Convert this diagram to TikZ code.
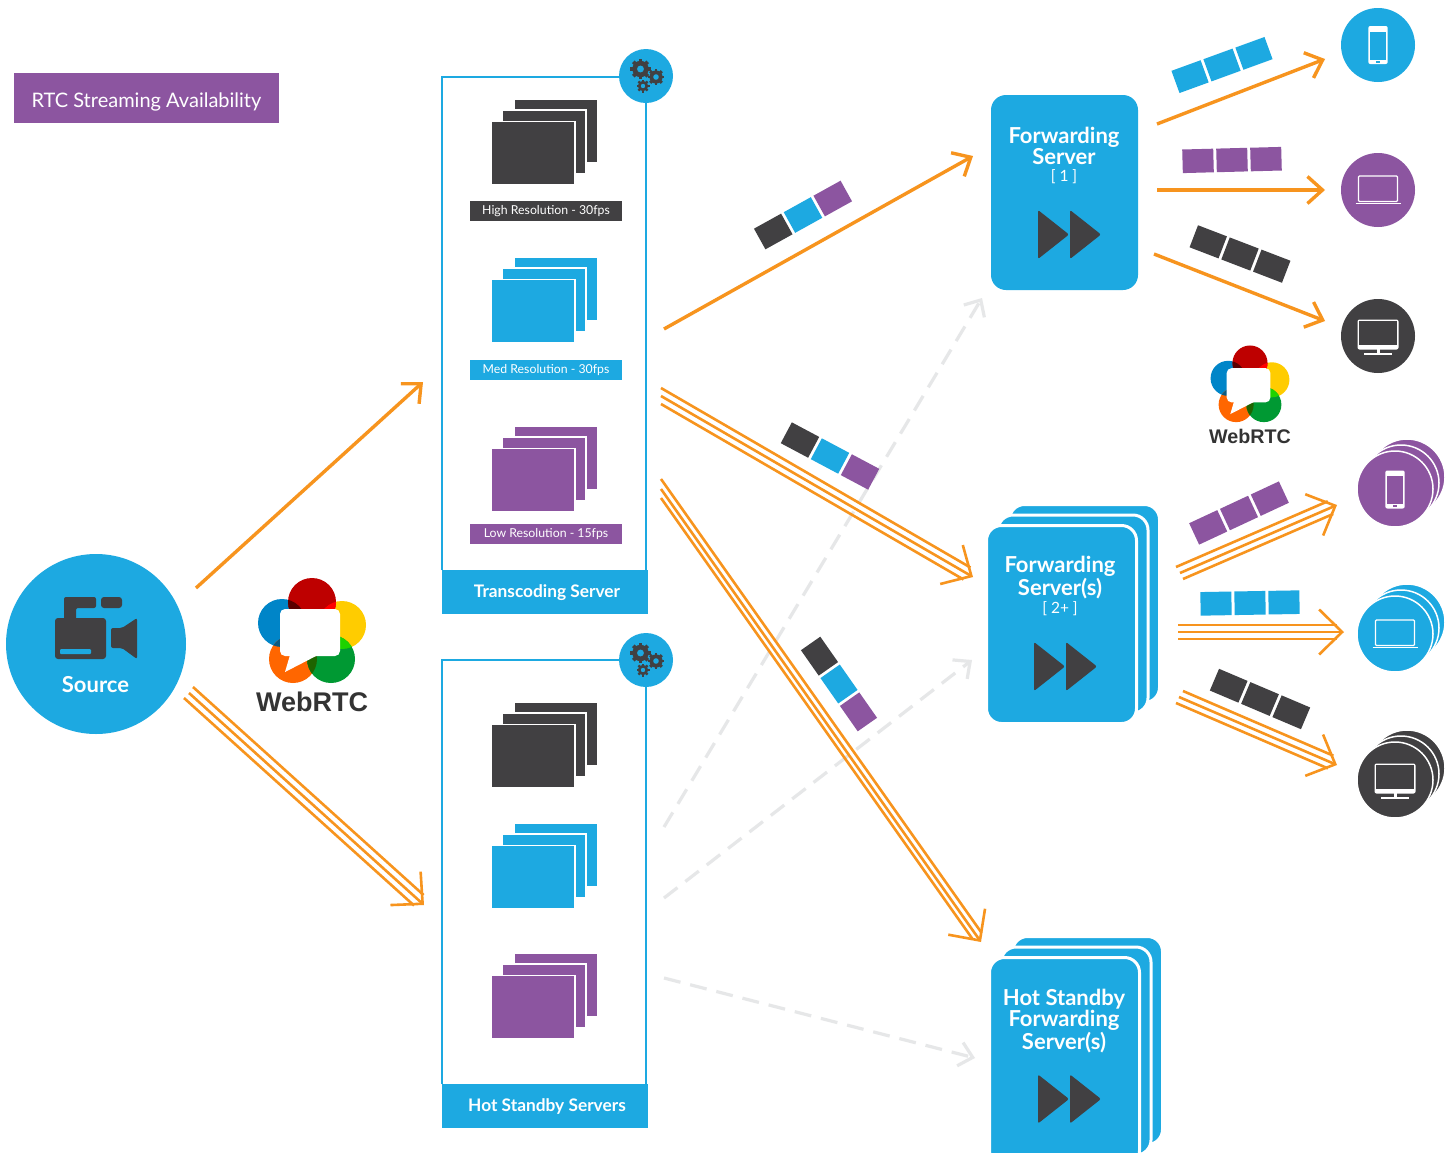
\documentclass[tikz,border=0pt]{standalone}
\usepackage{fontspec}
\setmainfont{Lato}
\newfontfamily\logofont{Liberation Sans}
\usetikzlibrary{arrows.meta,calc}
\definecolor{skyblue}{HTML}{1DA9E1}
\definecolor{plum}{HTML}{8C55A0}
\definecolor{ink}{HTML}{414042}
\definecolor{flow}{HTML}{F7941E}
\definecolor{idle}{HTML}{E6E7E8}
\tikzset{
	flowline/.style={color=flow,line width=3.4pt,-{Straight Barb[length=15pt,width=27pt]}},
	flowthin/.style={color=flow,line width=2.6pt,shorten >=7pt},
	flowtip/.style={color=flow,line width=2.6pt,-{Straight Barb[length=23pt,width=45pt]}},
	idleline/.style={color=idle,line width=3.2pt,dash pattern=on 17pt off 10pt,-{Straight Barb[length=13pt,width=24pt]}},
	tag/.style={text=white,font=\fontsize{12.3}{12.3}\selectfont,minimum width=152pt,minimum height=20pt,inner sep=0pt},
	footer/.style={text=white,font=\fontsize{17.3}{17.3}\selectfont\bfseries,inner sep=0pt},
	srvtext/.style={text=white,align=center,font=\fontsize{22}{20}\selectfont\bfseries,inner sep=0pt},
	subtext/.style={text=white,font=\fontsize{15.5}{15.5}\selectfont,inner sep=0pt},
	device/.style={circle,minimum size=74pt,inner sep=0pt},
	sheet/.style={draw=white,line width=1.5pt},
	card/.style={draw=white,line width=3pt,fill=skyblue,rounded corners=15pt}
}
% three overlapping sheets, #1 = left, #2 = top of the front one
\newcommand{\sheetstack}[3]{
	\foreach \k in {2,1,0}
	\fill[#3,sheet] ({#1-0.75+11.25*\k},{#2-0.75-11.25*\k}) rectangle ++(83.5,63.5);
}
% a row of three packets
\newcommand{\packets}[6]{
	\begin{scope}[shift={(#1,#2)},rotate=#3]
		\fill[#4] (-49.5,-11.8) rectangle ++(31,23.6);
		\fill[#5] (-15.5,-11.8) rectangle ++(31,23.6);
		\fill[#6] (18.5,-11.8) rectangle ++(31,23.6);
	\end{scope}
}
% fast forward sign
\newcommand{\playsign}[2]{
	\foreach \k in {0,32}
	\fill[ink,rounded corners=2pt] ({#1+\k},{#2-24.5}) -- ({#1+\k+31},#2) -- ({#1+\k},{#2+24.5}) -- cycle;
}
\newcommand{\gearsign}[3]{
	\begin{scope}[shift={(#1,#2)}]
		\foreach \a in {0,45,...,315}
		\fill[ink,rotate=\a] ({-0.22*#3},0) rectangle ({0.22*#3},{1.25*#3});
		\fill[ink] (0,0) circle (#3);
		\fill[skyblue] (0,0) circle ({0.42*#3});
	\end{scope}
}
\newcommand{\phonesign}[3]{
	\begin{scope}[shift={(#1,#2)}]
		\fill[white,rounded corners=2pt] (-9.7,-19) rectangle (9.7,19);
		\fill[#3] (-8.4,-13.5) rectangle (8.4,14.5);
		\fill[#3] (-2,15.8) rectangle (2,17.8);
	\end{scope}
}
\newcommand{\laptopsign}[3]{
	\begin{scope}[shift={(#1,#2)}]
		\draw[white,line width=1.2pt,rounded corners=1pt] (-19.5,11.5) |- (19.5,-14) -- (19.5,11.5) -- cycle;
		\draw[white,line width=1.4pt] (-22.5,13.5) -- (22.5,13.5);
	\end{scope}
}
\newcommand{\screensign}[3]{
	\begin{scope}[shift={(#1,#2)}]
		\fill[white,rounded corners=2pt] (-20.5,-16.5) rectangle (20.5,13.5);
		\fill[#3] (-19,-15) rectangle (19,8.5);
		\fill[white] (-1.5,13) rectangle (1.5,18);
		\fill[white] (-14,17) rectangle (14,19);
	\end{scope}
}
% logo, #1 = x, #2 = y of the top circle, #3 = scale
\newcommand{\webrtclogo}[4]{
	\begin{scope}[shift={(#1,#2)},scale=#3,transform shape]
		\fill[color={rgb,255:red,0;green,133;blue,200}] (-30,21) circle (24);
		\fill[color={rgb,255:red,255;green,204;blue,0}] (30,23) circle (24);
		\fill[color={rgb,255:red,255;green,102;blue,0}] (-19,57) circle (24);
		\fill[color={rgb,255:red,0;green,153;blue,51}] (19,57) circle (24);
		\fill[color={rgb,255:red,190;green,0;blue,0}] (0,0) circle (24);
		\begin{scope}
			\clip (0,0) circle (24);
			\fill[color={rgb,255:red,90;green,0;blue,0}] (-30,21) circle (24);
			\fill[color={rgb,255:red,255;green,0;blue,0}] (30,23) circle (24);
		\end{scope}
		\begin{scope}
			\clip (19,57) circle (24);
			\fill[color={rgb,255:red,30;green,210;blue,0}] (30,23) circle (24);
			\fill[color={rgb,255:red,30;green,100;blue,0}] (-19,57) circle (24);
		\end{scope}
		\begin{scope}
			\clip (-30,21) circle (24);
			\fill[color={rgb,255:red,10;green,90;blue,130}] (-19,57) circle (24);
		\end{scope}
		\fill[white,rounded corners=5pt] (-32,7) rectangle (28,54);
		\fill[white] (-22,53) -- (-27,70) -- (6,53) -- cycle;
		\node[text=black!80,font=\logofont\fontsize{27}{27}\selectfont\bfseries,inner sep=0pt] (#4) at (0,100) {WebRTC};
	\end{scope}
}
% three parallel lines that share one head
\newcommand{\tripleflow}[4]{
	\draw[flowtip] (#2) -- (#4);
	\foreach \s in {#1,#3} {
		\coordinate (foot) at ($(#2)!(\s)!(#4)$);
		\draw[flowthin] (\s) -- ($(#4)+(\s)-(foot)$);
	}
}
\begin{document}
\begin{tikzpicture}[x=1pt,y=-1pt]
	\useasboundingbox (0,0) rectangle (1452,1152);
	\fill[white] (0,0) rectangle (1452,1152);
	% legend
	\fill[plum] (14,73) rectangle (279,123);
	\node[text=white,font=\fontsize{20}{20}\selectfont,inner sep=0pt] (legend) at (146.5,101.5) {RTC Streaming Availability};
	% source
	\node[device,fill=skyblue,minimum size=180pt] (source) at (96,644) {};
	\node[text=white,font=\fontsize{22}{22}\selectfont\bfseries,inner sep=0pt] (sourcelabel) at (95.5,685) {Source};
	\fill[ink,rounded corners=3pt] (55,618) rectangle (106,659);
	\fill[ink,rounded corners=2pt] (64,620) -- (64,597) -- (96,597) -- (96,608) -- (76,608) -- (76,620) -- cycle;
	\fill[ink,rounded corners=3pt] (101,597) rectangle (122,608);
	\fill[ink,rounded corners=2pt] (111,628) -- (122,628) -- (137,618) -- (137,659) -- (122,648) -- (111,648) -- cycle;
	\fill[skyblue,rounded corners=1pt] (60,649) rectangle (91,654);
	\webrtclogo{312}{602}{1}{logoleft}
	\webrtclogo{1250}{363}{0.73}{logoright}
	% transcoding box
	\draw[skyblue,line width=2pt] (442,570) -- (442,77) -- (646,77) -- (646,570);
	\fill[skyblue] (442,570) rectangle (648,614);
	\node[footer] (transcoding) at (547,593) {Transcoding Server};
	\node[device,fill=skyblue,minimum size=54pt] (gearsa) at (646,76) {};
	\gearsign{640.5}{69}{8.2}
	\gearsign{656}{77}{6.6}
	\gearsign{643}{86}{5.2}
	\sheetstack{492}{122}{ink}
	\sheetstack{492}{280}{skyblue}
	\sheetstack{492}{449}{plum}
	\node[tag,fill=ink] (hightag) at (546,211) {\raisebox{-2pt}{High Resolution - 30fps}};
	\node[tag,fill=skyblue] (medtag) at (546,370) {\raisebox{-2pt}{Med Resolution - 30fps}};
	\node[tag,fill=plum] (lowtag) at (546,534) {\raisebox{-2pt}{Low Resolution - 15fps}};
	% standby box
	\draw[skyblue,line width=2pt] (442,1084) -- (442,660) -- (646,660) -- (646,1084);
	\fill[skyblue] (442,1084) rectangle (648,1128);
	\node[footer] (standby) at (547,1107) {Hot Standby Servers};
	\node[device,fill=skyblue,minimum size=54pt] (gearsb) at (646,660) {};
	\gearsign{640.5}{653}{8.2}
	\gearsign{656}{661}{6.6}
	\gearsign{643}{670}{5.2}
	\sheetstack{492}{725}{ink}
	\sheetstack{492}{846}{skyblue}
	\sheetstack{492}{976}{plum}
	% forwarding servers
	\draw[card,draw=none] (991,95) rectangle (1138,290);
	\node[srvtext] (fsone) at (1064,145.5) {Forwarding\\Server};
	\node[subtext] (fsonecount) at (1064,177) {[ 1 ]};
	\playsign{1038}{234.5}
	\foreach \k in {2,1,0}
	\draw[card] ({986.5+11.5*\k},{525.5-10.5*\k}) rectangle ++(150,198);
	\node[srvtext] (fstwo) at (1060,577.5) {Forwarding\\Server(s)};
	\node[subtext] (fstwocount) at (1060,608.5) {[ 2+ ]};
	\playsign{1034}{666.5}
	\foreach \k in {2,1,0}
	\draw[card] ({989.5+11.5*\k},{957.5-10.5*\k}) rectangle ++(150,208);
	\node[srvtext] (fsthree) at (1064,1021) {Hot Standby\\Forwarding\\Server(s)};
	\playsign{1038}{1099}
	% devices
	\node[device,fill=skyblue] (phonea) at (1378,45) {};
	\phonesign{1378}{45}{skyblue}
	\node[device,fill=plum] (laptopa) at (1378,190) {};
	\laptopsign{1378}{190}{plum}
	\node[device,fill=ink] (screena) at (1378,336) {};
	\screensign{1378}{336}{ink}
	\foreach \k in {2,1,0} {
		\fill[plum,draw=white,line width=1.5pt] ({1395+6*\k},{489-6*\k}) circle (38);
		\fill[skyblue,draw=white,line width=1.5pt] ({1395+6*\k},{634-6*\k}) circle (38);
		\fill[ink,draw=white,line width=1.5pt] ({1395+6*\k},{780-6*\k}) circle (38);
	}
	\phonesign{1395}{489.5}{plum}
	\laptopsign{1395}{634}{skyblue}
	\screensign{1395}{780}{ink}
	% arrow ends
	\coordinate (srcup) at (196,588);
	\coordinate (tcin) at (423,382);
	\coordinate (srcdowna) at (193,687);
	\coordinate (srcdownb) at (189,693);
	\coordinate (srcdownc) at (184,698);
	\coordinate (sbin) at (424,905);
	\coordinate (tcone) at (664,329);
	\coordinate (fsonein) at (973,156);
	\coordinate (tctwoa) at (661,388);
	\coordinate (tctwob) at (661,396);
	\coordinate (tctwoc) at (661,404);
	\coordinate (fstwoin) at (973,577);
	\coordinate (tcthreea) at (661,479);
	\coordinate (tcthreeb) at (661,489);
	\coordinate (tcthreec) at (661,498);
	\coordinate (fsthreein) at (981,942);
	\coordinate (sbone) at (664,827);
	\coordinate (fsoneidle) at (982,298);
	\coordinate (sbtwo) at (664,898);
	\coordinate (fstwoidle) at (972,660);
	\coordinate (sbthree) at (664,978);
	\coordinate (fsthreeidle) at (975,1058);
	\coordinate (outa) at (1157,124);
	\coordinate (phoneain) at (1325,59);
	\coordinate (outb) at (1157,190);
	\coordinate (laptopain) at (1325,190);
	\coordinate (outc) at (1154,254);
	\coordinate (screenain) at (1325,321);
	\coordinate (outda) at (1176,567);
	\coordinate (outdb) at (1180,573);
	\coordinate (outdc) at (1183,579);
	\coordinate (phonebin) at (1337,505);
	\coordinate (outea) at (1178,625);
	\coordinate (outeb) at (1178,632);
	\coordinate (outec) at (1178,639);
	\coordinate (laptopbin) at (1344,632);
	\coordinate (outfa) at (1176,703);
	\coordinate (outfb) at (1179,697);
	\coordinate (outfc) at (1183,691);
	\coordinate (screenbin) at (1337,765);
	% idle paths
	\draw[idleline] (sbone) -- (fsoneidle);
	\draw[idleline] (sbtwo) -- (fstwoidle);
	\draw[idleline] (sbthree) -- (fsthreeidle);
	% live paths
	\draw[flowline] (srcup) -- (tcin);
	\draw[flowline] (tcone) -- (fsonein);
	\draw[flowline] (outa) -- (phoneain);
	\draw[flowline] (outb) -- (laptopain);
	\draw[flowline] (outc) -- (screenain);
	\tripleflow{srcdowna}{srcdownb}{srcdownc}{sbin}
	\tripleflow{tctwoa}{tctwob}{tctwoc}{fstwoin}
	\tripleflow{tcthreea}{tcthreeb}{tcthreec}{fsthreein}
	\tripleflow{outda}{outdb}{outdc}{phonebin}
	\tripleflow{outea}{outeb}{outec}{laptopbin}
	\tripleflow{outfa}{outfb}{outfc}{screenbin}
	% packets
	\packets{803}{215}{29}{ink}{skyblue}{plum}
	\packets{830}{456}{-28}{ink}{skyblue}{plum}
	\packets{839}{684}{-55}{ink}{skyblue}{plum}
	\packets{1222}{65}{20}{skyblue}{skyblue}{skyblue}
	\packets{1232}{160}{1.5}{plum}{plum}{plum}
	\packets{1240}{254}{-21}{ink}{ink}{ink}
	\packets{1239}{513}{25}{plum}{plum}{plum}
	\packets{1250}{603}{1}{skyblue}{skyblue}{skyblue}
	\packets{1260}{699}{-23}{ink}{ink}{ink}
\end{tikzpicture}
\end{document}
